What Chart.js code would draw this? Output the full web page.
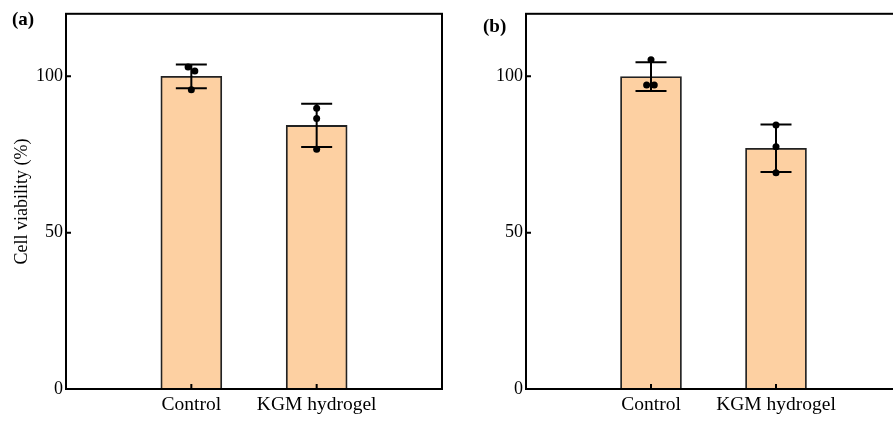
<!DOCTYPE html>
<html>
<head>
<meta charset="utf-8">
<script src="https://cdn.jsdelivr.net/npm/chart.js@4"></script>
<style>
  body { margin: 0; background: #fff; overflow: hidden; }
  #wrap { position: relative; width: 893px; height: 421px; overflow: hidden; }
  canvas { position: absolute; top: 0; }
  .tag { position: absolute; font: bold 19px "Liberation Serif", "Times New Roman", serif; line-height: 19px; color: #000; }
</style>
</head>
<body>
<div id="wrap">
  <canvas id="chartA" width="450" height="421" style="left:0"></canvas>
  <canvas id="chartB" width="460" height="421" style="left:450px"></canvas>
  <div class="tag" style="left:12px; top:9px">(a)</div>
  <div class="tag" style="left:483px; top:16px">(b)</div>
</div>
<script>
// data
const categories = ['Control', 'KGM hydrogel'];
const yTicks = [0, 50, 100];

// panel (a)
const meanA = [100, 84.3];
const sdA = [3.8, 6.9];
const pointsA = [[103.0, 101.7, 95.7], [89.8, 86.5, 76.7]];

// panel (b)
const meanB = [99.9, 77.0];
const sdB = [4.6, 7.6];
const pointsB = [[105.3, 97.2, 97.2], [84.4, 77.5, 69.2]];

// small sideways shift of overlapping dots (category units)
const jitterA = [[-0.026, 0.028, 0], [0, 0, 0]];
const jitterB = [[0, -0.035, 0.026], [0, 0, 0]];

const serif = '"Liberation Serif", "Times New Roman", serif';

// frame, inward ticks and error bars
const framePlugin = {
  id: 'frame',
  afterDatasetsDraw(chart, args, opts) {
    const ctx = chart.ctx;
    const a = chart.chartArea;
    const x = chart.scales.x, y = chart.scales.y;
    ctx.save();
    ctx.strokeStyle = '#000';
    ctx.lineCap = 'butt';
    ctx.lineWidth = 2;
    opts.mean.forEach((m, i) => {
      const px = x.getPixelForValue(i + 1);
      const top = y.getPixelForValue(m + opts.sd[i]);
      const bot = y.getPixelForValue(m - opts.sd[i]);
      ctx.beginPath();
      ctx.moveTo(px, top); ctx.lineTo(px, bot);
      ctx.moveTo(px - 15.5, top); ctx.lineTo(px + 15.5, top);
      ctx.moveTo(px - 15.5, bot); ctx.lineTo(px + 15.5, bot);
      ctx.stroke();
    });
    ctx.strokeRect(a.left, a.top, a.right - a.left, a.bottom - a.top);
    ctx.beginPath();
    y.ticks.forEach(t => {
      const py = y.getPixelForValue(t.value);
      ctx.moveTo(a.left, py); ctx.lineTo(a.left + 5, py);
    });
    x.ticks.forEach(t => {
      const px = x.getPixelForValue(t.value);
      ctx.moveTo(px, a.bottom); ctx.lineTo(px, a.bottom - 5);
    });
    ctx.stroke();
    ctx.restore();
  }
};

function makePanel(id, mean, sd, points, jitter, yTitle, axisWidth, rightPad) {
  const dots = [];
  points.forEach((vals, i) => vals.forEach((v, k) => dots.push({ x: i + 1 + jitter[i][k], y: v })));
  return new Chart(document.getElementById(id), {
    type: 'bar',
    data: {
      datasets: [{
        type: 'scatter',
        data: dots,
        pointRadius: 3.5,
        pointBackgroundColor: '#000',
        pointBorderWidth: 0
      }, {
        data: mean.map((m, i) => ({ x: i + 1, y: m })),
        backgroundColor: 'rgb(253, 208, 162)',
        borderColor: '#222',
        borderWidth: 1.8,
        barThickness: 61
      }]
    },
    options: {
      responsive: false,
      animation: false,
      layout: { padding: { left: 0, top: 12, right: rightPad, bottom: 0 } },
      scales: {
        x: {
          type: 'linear',
          min: 0,
          max: 3,
          offset: false,
          afterBuildTicks: s => { s.ticks = categories.map((c, i) => ({ value: i + 1 })); },
          afterFit: s => { s.height = 32; },
          grid: { display: false, drawTicks: false },
          border: { display: false },
          ticks: {
            padding: 4,
            color: '#000',
            font: { family: serif, size: 19.5 },
            callback: v => categories[v - 1]
          }
        },
        y: {
          min: 0,
          max: 120,
          afterBuildTicks: s => { s.ticks = yTicks.map(v => ({ value: v })); },
          afterFit: s => { s.width = axisWidth; },
          grid: { display: false, drawTicks: false },
          border: { display: false },
          ticks: { padding: 3, color: '#000', font: { family: serif, size: 18 } },
          title: {
            display: !!yTitle,
            text: yTitle,
            color: '#000',
            font: { family: serif, size: 18 },
            padding: { top: 11, bottom: 0 }
          }
        }
      },
      plugins: {
        legend: { display: false },
        tooltip: { enabled: false },
        frame: { mean: mean, sd: sd }
      }
    },
    plugins: [framePlugin]
  });
}

makePanel('chartA', meanA, sdA, pointsA, jitterA, 'Cell viability (%)', 66, 8);
makePanel('chartB', meanB, sdB, pointsB, jitterB, '', 76, 9);
</script>
</body>
</html>
